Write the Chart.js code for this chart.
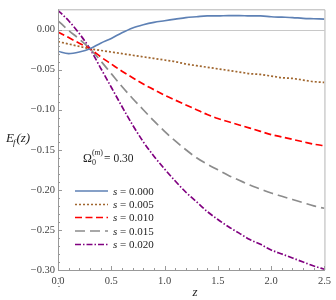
<!DOCTYPE html>
<html>
<head>
<meta charset="utf-8">
<script src="https://cdn.jsdelivr.net/npm/chart.js@4/dist/chart.umd.min.js"></script>
<style>
body{margin:0;background:#fff}
</style>
</head>
<body>
<canvas id="chart" width="336" height="300"></canvas>
<script>
// redshift grid
var zValues=[0,0.1,0.2,0.3,0.4,0.5,0.6,0.7,0.8,0.9,1.0,1.1,1.2,1.3,1.4,1.5,1.6,1.7,1.8,1.9,2.0,2.1,2.2,2.3,2.4,2.5];
// E_f(z) for each s
var e000=[-0.027,-0.030,-0.028,-0.024,-0.017,-0.011,-0.004,0.002,0.006,0.009,0.011,0.013,0.015,0.016,0.017,0.017,0.0175,0.0175,0.017,0.017,0.016,0.0155,0.015,0.014,0.0135,0.013];
var e005=[-0.015,-0.018,-0.021,-0.024,-0.026,-0.028,-0.030,-0.032,-0.034,-0.036,-0.038,-0.040,-0.043,-0.045,-0.047,-0.049,-0.051,-0.053,-0.055,-0.056,-0.058,-0.060,-0.061,-0.063,-0.065,-0.066];
var e010=[-0.003,-0.010,-0.017,-0.024,-0.034,-0.043,-0.052,-0.060,-0.068,-0.075,-0.082,-0.088,-0.094,-0.100,-0.106,-0.111,-0.115,-0.119,-0.123,-0.127,-0.131,-0.134,-0.137,-0.140,-0.143,-0.145];
var e015=[0.011,-0.001,-0.012,-0.024,-0.039,-0.055,-0.071,-0.086,-0.100,-0.114,-0.127,-0.139,-0.150,-0.160,-0.168,-0.175,-0.182,-0.188,-0.194,-0.199,-0.204,-0.208,-0.212,-0.216,-0.220,-0.223];
var e020=[0.024,0.011,-0.005,-0.024,-0.048,-0.072,-0.096,-0.119,-0.140,-0.158,-0.174,-0.189,-0.203,-0.215,-0.227,-0.237,-0.246,-0.254,-0.262,-0.268,-0.275,-0.280,-0.285,-0.290,-0.295,-0.299];
var sValues=['0.000','0.005','0.010','0.015','0.020'];
var xTicks=[0,0.5,1.0,1.5,2.0,2.5];
var yTicks=[0,-0.05,-0.10,-0.15,-0.20,-0.25,-0.30];

var serif='"Liberation Serif", "DejaVu Serif", serif';

function pts(arr){
    return zValues.map(function(z,i){ return {x:z,y:arr[i]}; });
}

var styles=[
    {color:'#5e81b5',dash:[]},
    {color:'#a0662e',dash:[2,2]},
    {color:'#ff0000',dash:[7,3.5]},
    {color:'#8c8c8c',dash:[10,5]},
    {color:'#800080',dash:[6,2,1.5,2]}
];
var series=[e000,e005,e010,e015,e020];

var datasets=series.map(function(arr,i){
    return {
        label:'s = '+sValues[i],
        data:pts(arr),
        borderColor:styles[i].color,
        borderDash:styles[i].dash,
        borderWidth:1.7,
        pointRadius:0,
        fill:false,
        cubicInterpolationMode:'monotone'
    };
});

var decor={
    id:'decor',
    beforeDatasetsDraw:function(chart){
        var c=chart.ctx, a=chart.chartArea, y=chart.scales.y;
        var y0=Math.round(y.getPixelForValue(0))+0.5;
        c.save();
        c.strokeStyle='#c8c8c8';
        c.lineWidth=1;
        c.beginPath(); c.moveTo(a.left,y0); c.lineTo(a.right,y0); c.stroke();
        c.restore();
    },
    afterDatasetsDraw:function(chart){
        var c=chart.ctx, a=chart.chartArea, x=chart.scales.x, y=chart.scales.y;
        c.save();
        // top / right frame
        c.strokeStyle='#b4b4b4';
        c.lineWidth=1;
        c.beginPath();
        c.moveTo(a.left,a.top+0.5); c.lineTo(a.right+0.5,a.top+0.5); c.lineTo(a.right+0.5,a.bottom);
        c.stroke();
        // left / bottom frame
        c.strokeStyle='#999';
        c.beginPath();
        c.moveTo(a.left+0.5,a.top); c.lineTo(a.left+0.5,a.bottom+0.5); c.lineTo(a.right+0.5,a.bottom+0.5);
        c.stroke();
        // ticks
        c.beginPath();
        var i,p,v;
        for(i=0;i<=25;i++){
            v=i/10; p=Math.round(x.getPixelForValue(v))+0.5;
            c.moveTo(p,a.bottom); c.lineTo(p,a.bottom-(i%5===0?4:2));
        }
        for(i=0;i<=32;i++){
            v=-i/100; p=Math.round(y.getPixelForValue(v))+0.5;
            c.moveTo(a.left,p); c.lineTo(a.left+(i%5===0?4:2),p);
        }
        c.stroke();
        c.restore();
    },
    afterDraw:function(chart){
        var c=chart.ctx;
        c.save();
        c.fillStyle='#222';
        c.textBaseline='alphabetic';
        // axis titles
        c.font='italic 13px '+serif;
        c.textAlign='center';
        c.fillText('z',195,296);
        c.textAlign='left';
        c.fillText('E',6,142);
        var w=c.measureText('E').width;
        c.font='italic 9px '+serif;
        c.fillText('f',6+w-1,145);
        var w2=c.measureText('f').width;
        c.font='italic 13px '+serif;
        c.fillText('(z)',6+w+w2,142);
        // Omega label
        c.font='12px '+serif;
        c.fillText('\u03a9',83,162);
        var ow=c.measureText('\u03a9').width;
        c.font='8px '+serif;
        c.fillText('0',83+ow,165);
        c.fillText('(',83+ow,155);
        var pw=c.measureText('(').width;
        c.font='italic 8px '+serif;
        c.fillText('m',83+ow+pw,155);
        var mw=c.measureText('m').width;
        c.font='8px '+serif;
        c.fillText(')',83+ow+pw+mw,155);
        var cw=c.measureText(')').width;
        c.font='11.5px '+serif;
        c.fillText('= 0.30',83+ow+pw+mw+cw+1,162);
        // legend
        var ly=[191,204.5,217.5,231,244.5];
        chart.data.datasets.forEach(function(ds,i){
            c.save();
            c.strokeStyle=ds.borderColor;
            c.setLineDash(ds.borderDash);
            c.lineWidth=1.7;
            c.beginPath(); c.moveTo(75,ly[i]); c.lineTo(108,ly[i]); c.stroke();
            c.restore();
            c.fillStyle='#222';
            c.font='italic 11px '+serif;
            c.fillText('s',113,ly[i]+3.5);
            var sw=c.measureText('s').width;
            c.font='11px '+serif;
            c.fillText(' = '+sValues[i],113+sw,ly[i]+3.5);
        });
        c.restore();
    }
};

var ctx=document.getElementById('chart').getContext('2d');
var myChart=new Chart(ctx,{
    type:'line',
    data:{datasets:datasets},
    options:{
        responsive:false,
        animation:false,
        layout:{padding:{left:0,right:5,top:0,bottom:0}},
        plugins:{legend:{display:false},tooltip:{enabled:false}},
        scales:{
            x:{
                type:'linear',
                min:0,max:2.5,
                grid:{display:false,drawTicks:false},
                border:{display:false},
                afterBuildTicks:function(s){ s.ticks=xTicks.map(function(v){return {value:v};}); },
                afterFit:function(s){ s.height=30; },
                ticks:{
                    padding:5,
                    color:'#444',
                    font:{family:serif,size:10.5},
                    maxRotation:0,
                    callback:function(v){ return v.toFixed(1); }
                }
            },
            y:{
                type:'linear',
                min:-0.3,max:0.0253,
                grid:{display:false,drawTicks:false},
                border:{display:false},
                afterBuildTicks:function(s){ s.ticks=yTicks.map(function(v){return {value:v};}); },
                afterFit:function(s){ s.width=58; },
                ticks:{
                    padding:3,
                    color:'#444',
                    font:{family:serif,size:10.5},
                    callback:function(v){ return (v<-1e-9?'\u2212':'')+Math.abs(v).toFixed(2); }
                }
            }
        }
    },
    plugins:[decor]
});
</script>
</body>
</html>
